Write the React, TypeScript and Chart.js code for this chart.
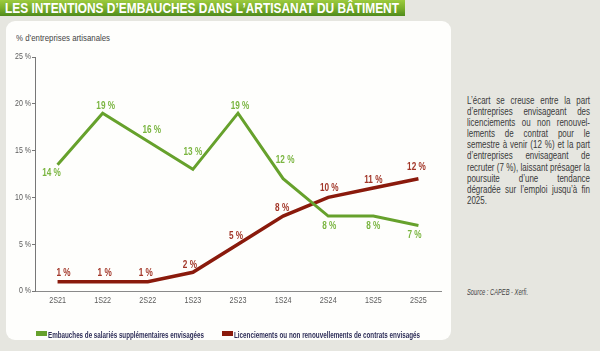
import React, { useEffect, useLayoutEffect, useRef } from "react";
import { Chart, registerables } from "chart.js";

Chart.register(...registerables);

const categories = ["2S21", "1S22", "2S22", "1S23", "2S23", "1S24", "2S24", "1S25", "2S25"];
const hiringValues = [13.5, 19, 16, 13, 19, 12, 8, 8, 7];
const hiringLabels = ["14 %", "19 %", "16 %", "13 %", "19 %", "12 %", "8 %", "8 %", "7 %"];
const layoffValues = [1, 1, 1, 2, 5, 8, 10, 11, 12];
const layoffLabels = ["1 %", "1 %", "1 %", "2 %", "5 %", "8 %", "10 %", "11 %", "12 %"];
const yTicks = [0, 5, 10, 15, 20, 25];
const seriesNames = [
  "Embauches de salariés supplémentaires envisagées",
  "Licenciements ou non renouvellements de contrats envisagés",
];

// label placement (style): offsets relative to each point
const hiringLabelDy = [9, -7, -11, -17, -7, -18, 10, 10, 10];
const hiringLabelDx = [-6, 3, 4, 0, 2, 2, 1, 0, -4];
const layoffLabelDy = [-8, -8, -8, -7, -8, -8, -9, -8, -11];
const layoffLabelDx = [6, 2, -2, -3, -2, -1, 1, 0, -2];

const FONT = '"Liberation Sans", Arial, sans-serif';

const GREEN = "#66a12c";
const GREEN_LBL = "#7ab540";
const RED = "#8a1a0c";
const RED_LBL = "#a23628";

function drawNarrow(ctx: any, text: string, x: number, y: number, sx: number) {
  ctx.save();
  ctx.translate(x, y);
  ctx.scale(sx, 1);
  ctx.fillText(text, 0, 0);
  ctx.restore();
}

const labelPlugin = {
  id: "pointLabels",
  afterDatasetsDraw(chart: any) {
    const ctx = chart.ctx;
    ctx.save();
    ctx.font = `bold 10px ${FONT}`;
    ctx.textAlign = "center";
    ctx.textBaseline = "middle";
    const cfg = [
      { texts: hiringLabels, dy: hiringLabelDy, dx: hiringLabelDx, color: GREEN_LBL },
      { texts: layoffLabels, dy: layoffLabelDy, dx: layoffLabelDx, color: RED_LBL },
    ];
    chart.data.datasets.forEach((_: any, di: number) => {
      const meta = chart.getDatasetMeta(di);
      const c = cfg[di];
      ctx.fillStyle = c.color;
      meta.data.forEach((pt: any, i: number) => {
        drawNarrow(ctx, c.texts[i], pt.x + c.dx[i], pt.y + c.dy[i], 0.82);
      });
    });
    ctx.restore();
  },
};

const tickLabelPlugin = {
  id: "narrowTicks",
  afterDraw(chart: any) {
    const ctx = chart.ctx;
    const xs = chart.scales.x;
    const ys = chart.scales.y;
    ctx.save();
    ctx.font = `9px ${FONT}`;
    ctx.fillStyle = "#5a5a5a";
    ctx.textBaseline = "middle";
    ctx.textAlign = "right";
    ys.ticks.forEach((t: any, i: number) => {
      drawNarrow(ctx, `${t.value} %`, ys.right - 4, ys.getPixelForTick(i), 0.78);
    });
    ctx.textAlign = "center";
    xs.ticks.forEach((t: any, i: number) => {
      drawNarrow(ctx, xs.getLabelForValue(t.value), xs.getPixelForTick(i), xs.top + 10, 0.8);
    });
    ctx.restore();
  },
};

function ChartPanel() {
  const ref = useRef<HTMLCanvasElement | null>(null);
  useEffect(() => {
    if (!ref.current) return;
    const chart = new Chart(ref.current, {
      type: "line",
      data: {
        labels: categories,
        datasets: [
          {
            label: seriesNames[0],
            data: hiringValues,
            borderColor: GREEN,
            backgroundColor: GREEN,
            borderWidth: 3,
            pointRadius: 0,
            tension: 0,
          },
          {
            label: seriesNames[1],
            data: layoffValues,
            borderColor: RED,
            backgroundColor: RED,
            borderWidth: 3.5,
            pointRadius: 0,
            tension: 0,
          },
        ],
      },
      options: {
        animation: false,
        responsive: false,
        devicePixelRatio: 1,
        layout: { padding: { top: 36, right: 10, left: 0, bottom: 0 } },
        plugins: {
          legend: { display: false },
          tooltip: { enabled: false },
        },
        scales: {
          x: {
            offset: true,
            grid: { display: false, drawTicks: false },
            border: { display: true, color: "#8a8a8a", width: 1 },
            ticks: { display: false },
            afterFit: (s: any) => {
              s.height = 49;
            },
          },
          y: {
            min: 0,
            max: 25,
            afterBuildTicks: (s: any) => {
              s.ticks = yTicks.map((v) => ({ value: v }));
            },
            grid: {
              drawOnChartArea: false,
              drawTicks: true,
              tickLength: 3,
              color: "#777",
            },
            border: { display: true, color: "#777", width: 1 },
            ticks: { display: false },
            afterFit: (s: any) => {
              s.width = 29;
            },
          },
        },
      },
      plugins: [labelPlugin, tickLabelPlugin],
    });
    return () => chart.destroy();
  }, []);
  return (
    <canvas
      ref={ref}
      width={445}
      height={319}
      style={{ position: "absolute", left: 0, top: 0, width: 445, height: 319 }}
    />
  );
}

function FitText({ width, style, children }: { width: number; style: any; children: any }) {
  const ref = useRef<HTMLSpanElement | null>(null);
  useLayoutEffect(() => {
    const el = ref.current;
    if (!el) return;
    el.style.transform = "none";
    const w = el.getBoundingClientRect().width;
    if (w > 0) el.style.transform = `scaleX(${width / w})`;
  });
  return (
    <span
      ref={ref}
      style={{ display: "inline-block", whiteSpace: "nowrap", transformOrigin: "0 50%", ...style }}
    >
      {children}
    </span>
  );
}

const sideLines = [
  "L’écart se creuse entre la part",
  "d’entreprises envisageant des",
  "licenciements ou non renouvel-",
  "lements de contrat pour le",
  "semestre à venir (12 %) et la part",
  "d’entreprises envisageant de",
  "recruter (7 %), laissant présager la",
  "poursuite d’une tendance",
  "dégradée sur l’emploi jusqu’à fin",
  "2025.",
];

function SideText() {
  const ref = useRef<HTMLDivElement | null>(null);
  useLayoutEffect(() => {
    const box = ref.current;
    if (!box) return;
    const spans = Array.from(box.querySelectorAll("span.m")) as HTMLElement[];
    let maxW = 0;
    spans.forEach((s) => {
      maxW = Math.max(maxW, s.getBoundingClientRect().width);
    });
    const inner = box.firstChild as HTMLElement;
    inner.style.width = `${Math.ceil(maxW)}px`;
    inner.style.transform = `scaleX(${123 / Math.ceil(maxW)})`;
  });
  return (
    <div ref={ref} style={{ position: "absolute", left: 467, top: 95 }}>
      <div style={{ transformOrigin: "0 0", fontSize: 10.5, lineHeight: "11.1px", color: "#3a3a3a" }}>
        {sideLines.map((l, i) => (
          <div
            key={i}
            style={{
              textAlign: "justify",
              textAlignLast: i === sideLines.length - 1 ? "left" : "justify",
              whiteSpace: "nowrap",
            }}
          >
            <span className="m" style={{ display: "inline" }}>{l}</span>
          </div>
        ))}
      </div>
    </div>
  );
}

export default function App() {
  return (
    <div
      style={{
        position: "fixed",
        left: 0,
        top: 0,
        width: 600,
        height: 351,
        background: "#e6e6e0",
        fontFamily: FONT,
        overflow: "hidden",
      }}
    >
      <div
        style={{
          position: "absolute",
          left: 0,
          top: 0,
          width: 405,
          height: 16,
          background: "linear-gradient(#9ccb3e, #78ad2a 55%, #4f8a1c)",
        }}
      >
        <div style={{ position: "absolute", left: 5, top: 0, height: 16, lineHeight: "16px" }}>
          <FitText width={394} style={{ color: "#fff", fontWeight: "bold", fontSize: 14 }}>
            LES INTENTIONS D’EMBAUCHES DANS L’ARTISANAT DU BÂTIMENT
          </FitText>
        </div>
      </div>
      <div
        style={{
          position: "absolute",
          left: 6,
          top: 21,
          width: 445,
          height: 319,
          background: "#fefefc",
          borderRadius: 9,
        }}
      >
        <div style={{ position: "absolute", left: 10, top: 9, lineHeight: "12px" }}>
          <FitText width={94} style={{ fontSize: 9.5, color: "#444" }}>
            % d’entreprises artisanales
          </FitText>
        </div>
        <ChartPanel />
        <div style={{ position: "absolute", left: 30, top: 307, height: 10 }}>
          <span style={{ position: "absolute", left: 0, top: 3, width: 11, height: 5, background: GREEN }} />
          <span style={{ position: "absolute", left: 12, top: 0, lineHeight: "10px" }}>
            <FitText width={156} style={{ fontSize: 9, fontWeight: "bold", color: "#2e2e58" }}>
              {seriesNames[0]}
            </FitText>
          </span>
          <span style={{ position: "absolute", left: 186, top: 3, width: 11, height: 5, background: RED }} />
          <span style={{ position: "absolute", left: 198, top: 0, lineHeight: "10px" }}>
            <FitText width={186} style={{ fontSize: 9, fontWeight: "bold", color: "#2e2e58" }}>
              {seriesNames[1]}
            </FitText>
          </span>
        </div>
      </div>
      <SideText />
      <div style={{ position: "absolute", left: 467, top: 285, lineHeight: "10px" }}>
        <FitText width={61} style={{ fontSize: 8.5, fontStyle: "italic", color: "#444" }}>
          Source : CAPEB - Xerfi.
        </FitText>
      </div>
    </div>
  );
}
